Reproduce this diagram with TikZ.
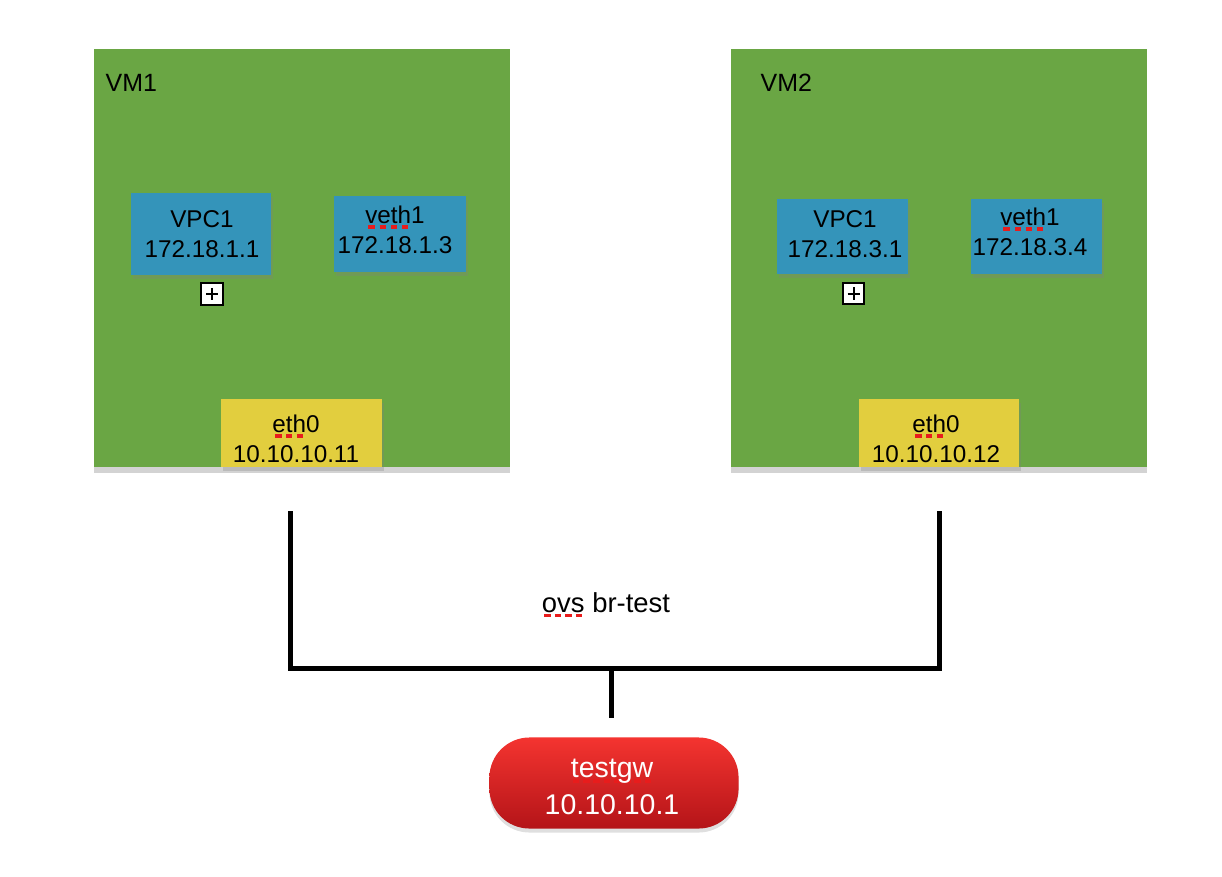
\documentclass[tikz,border=0pt]{standalone}
\usepackage{fontspec}
\setmainfont{Liberation Sans}
\usetikzlibrary{shadows}
\definecolor{vmgreen}{RGB}{106,166,68}
\definecolor{vpcblue}{RGB}{52,148,186}
\definecolor{ethyellow}{RGB}{226,206,62}
\definecolor{gwtop}{RGB}{244,52,48}
\definecolor{gwbottom}{RGB}{180,20,24}
\definecolor{spellred}{RGB}{232,28,28}
\newsavebox\spellbox
\newcommand{\spellmark}[1]{\sbox\spellbox{#1}\rlap{\color{spellred}\raisebox{-1.5pt}{\hbox to \wd\spellbox{\xleaders\hbox to 2.8pt{\hss\rule{1.8pt}{1.0pt}\hss}\hfill}}}\usebox\spellbox}
\begin{document}
\begin{tikzpicture}[x=0.01cm,y=-0.01cm,
  vm/.style={fill=vmgreen, minimum width=4.16cm, minimum height=4.18cm, inner sep=0pt,
    drop shadow={shadow xshift=0cm, shadow yshift=-0.06cm, opacity=0.35}},
  port/.style={inner sep=0pt, drop shadow={shadow xshift=0.02cm, shadow yshift=-0.04cm, opacity=0.3}},
  vpc/.style={port, fill=vpcblue},
  eth/.style={port, fill=ethyellow},
  txt/.style={font=\fontsize{6.9}{8.5}\selectfont, align=center, inner sep=0pt},
  vmname/.style={font=\fontsize{7.1}{8.5}\selectfont, inner sep=0pt, anchor=base west},
  plusbox/.style={draw, fill=white, line width=0.02cm, minimum size=0.21cm, inner sep=0pt,
    path picture={\draw[line width=0.02cm] ([xshift=0.045cm]path picture bounding box.west) -- ([xshift=-0.045cm]path picture bounding box.east)
      ([yshift=-0.045cm]path picture bounding box.north) -- ([yshift=0.045cm]path picture bounding box.south);}},
  wire/.style={line width=0.05cm},
  gw/.style={rounded corners=0.4cm, top color=gwtop, bottom color=gwbottom, minimum width=2.49cm, minimum height=0.91cm,
    inner sep=0pt, drop shadow={shadow xshift=0cm, shadow yshift=-0.04cm, opacity=0.25}},
  ]
\useasboundingbox (0,0) rectangle (1222,876);

\node[vm] (vm1) at (302,258) {};
\node[vmname] (vm1-name) at (105,92) {VM1};
\node[vpc, minimum width=1.40cm, minimum height=0.82cm] (vpc1a) at (201,234) {};
\node[txt] (vpc1a-text) at (202,234) {VPC1\\172.18.1.1};
\node[vpc, minimum width=1.32cm, minimum height=0.76cm] (veth1a) at (400,234) {};
\node[txt] (veth1a-text) at (395,230) {\spellmark{veth}1\\172.18.1.3};
\node[plusbox] (plus1) at (212,294) {};
\node[eth, minimum width=1.61cm, minimum height=0.68cm] (eth0a) at (301.5,433) {};
\node[txt] (eth0a-text) at (296,439) {\spellmark{eth}0\\10.10.10.11};

\node[vm] (vm2) at (939,258) {};
\node[vmname] (vm2-name) at (760,92) {VM2};
\node[vpc, minimum width=1.31cm, minimum height=0.75cm] (vpc1b) at (842.5,236.5) {};
\node[txt] (vpc1b-text) at (845,234) {VPC1\\172.18.3.1};
\node[vpc, minimum width=1.31cm, minimum height=0.75cm] (veth1b) at (1036.5,236.5) {};
\node[txt] (veth1b-text) at (1030,232) {\spellmark{veth}1\\172.18.3.4};
\node[plusbox] (plus2) at (853.5,293.5) {};
\node[eth, minimum width=1.60cm, minimum height=0.68cm] (eth0b) at (939,433) {};
\node[txt] (eth0b-text) at (936,439) {\spellmark{eth}0\\10.10.10.12};

\coordinate (tap1) at (290.5,511);
\coordinate (tap2) at (939,511);
\coordinate (bus1) at (290.5,668.5);
\coordinate (bus2) at (939,668.5);
\coordinate (busmid) at (611.5,668.5);
\coordinate (gwtap) at (611.5,718);
\draw[wire] (tap1) -- (bus1) -- (bus2) -- (tap2);
\draw[wire] (busmid) -- (gwtap);
\node[font=\fontsize{7.8}{9}\selectfont, inner sep=0pt, anchor=base] (bridge) at (606,612) {\spellmark{ovs} br-test};

\node[gw] (gw) at (614,783) {};
\node[txt, text=white, font=\fontsize{8.1}{10.5}\selectfont] (gw-text) at (612,787) {\spellmark{testgw}\\10.10.10.1};
\end{tikzpicture}
\end{document}
